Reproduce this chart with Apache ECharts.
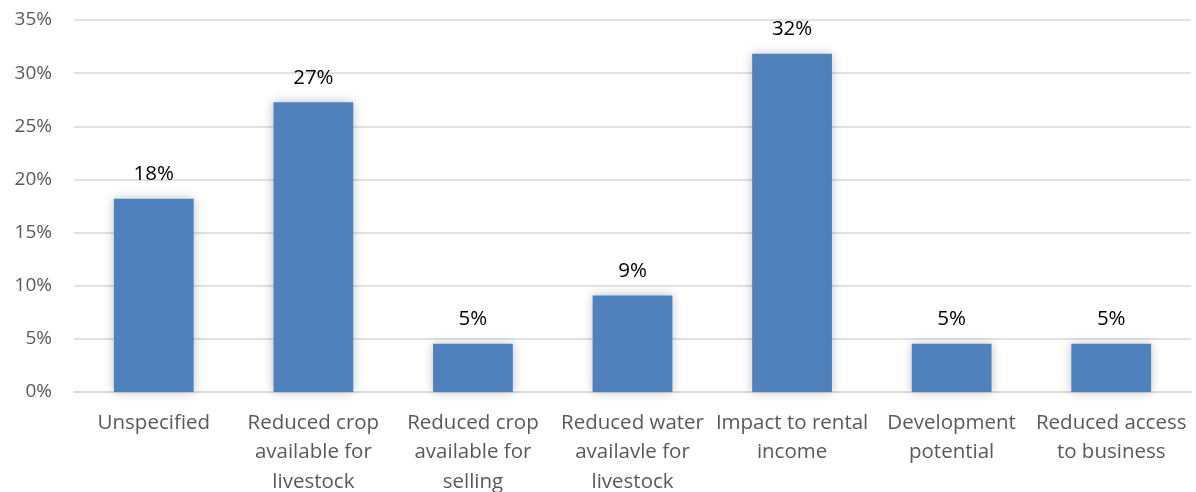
<!DOCTYPE html>
<html><head><meta charset="utf-8">
<script src="https://cdn.jsdelivr.net/npm/echarts@6/dist/echarts.min.js"></script>
<style>html,body{margin:0;padding:0;background:#fff;overflow:hidden}#c{width:1196px;height:492px}</style>
</head><body><div id="c"></div>
<script>
const categories = ["Unspecified","Reduced crop\navailable for\nlivestock","Reduced crop\navailable for\nselling","Reduced water\navailavle for\nlivestock","Impact to rental\nincome","Development\npotential","Reduced access\nto business"];
const values = [18.18, 27.27, 4.55, 9.09, 31.82, 4.55, 4.55];
const yTicks = [0,5,10,15,20,25,30,35];
const font = "'Open Sans', 'Liberation Sans', sans-serif";
const chart = echarts.init(document.getElementById('c'));
chart.setOption({
  animation:false,
  grid:{left:74,right:5,top:20,bottom:100,containLabel:false,outerBoundsMode:'none'},
  xAxis:{type:'category',data:categories,
    axisLine:{lineStyle:{color:'#d9d9d9',width:1.5}},axisTick:{show:false},
    axisLabel:{color:'#595959',fontSize:20.5,fontFamily:font,lineHeight:29.5,margin:16,interval:0}},
  yAxis:{type:'value',min:yTicks[0],max:yTicks[yTicks.length-1],interval:5,
    axisLine:{show:false},axisTick:{show:false},
    splitLine:{lineStyle:{color:'#d9d9d9',width:1.5}},
    axisLabel:{color:'#595959',fontSize:19,fontFamily:font,margin:22,formatter:v=>v+'%'}},
  series:[{type:'bar',data:values,barWidth:'50%',
    itemStyle:{color:'#4f81bd',shadowBlur:10,shadowColor:'rgba(0,0,0,0.25)',shadowOffsetX:0,shadowOffsetY:0},
    label:{show:true,position:'top',distance:14,color:'#000',fontSize:20.5,fontFamily:font,formatter:p=>Math.round(p.value)+'%'}}]
});
</script></body></html>
